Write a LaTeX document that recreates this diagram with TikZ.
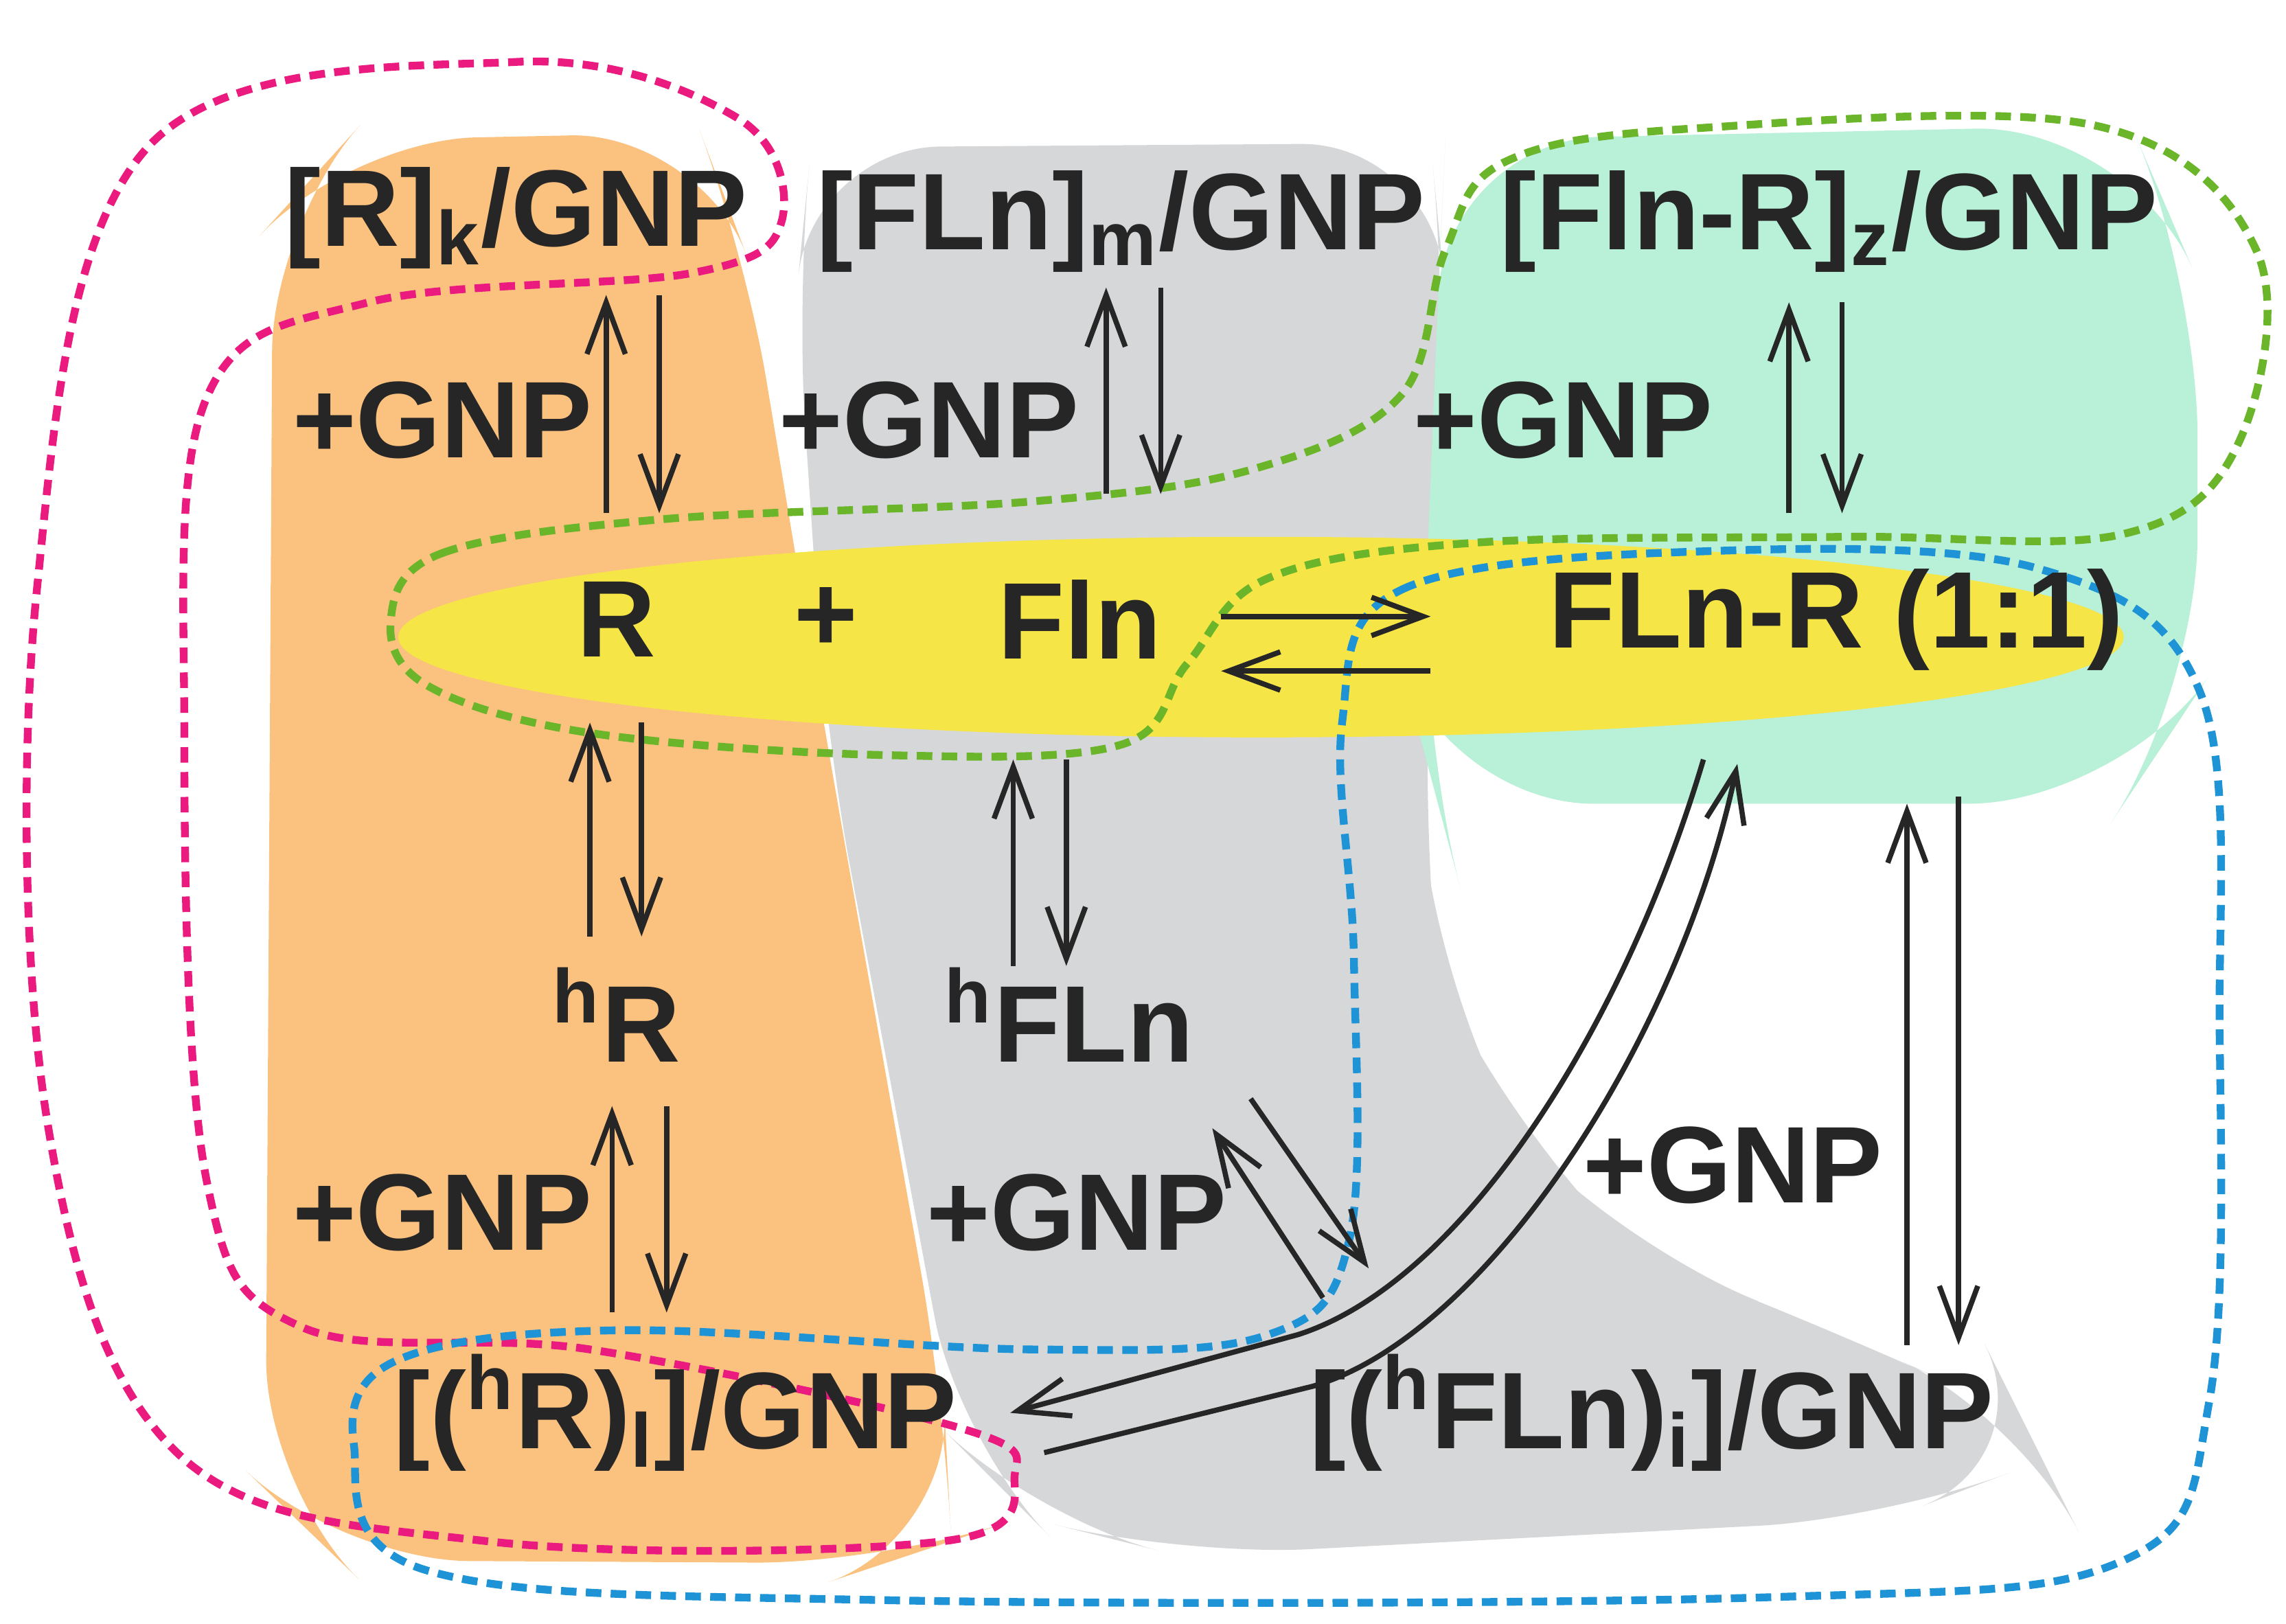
\documentclass[tikz,border=0pt]{standalone}
\usepackage{fontspec}
\setmainfont{Liberation Sans}
\usetikzlibrary{arrows.meta}
\definecolor{orng}{HTML}{FBC17F}
\definecolor{gry}{HTML}{D5D7D9}
\definecolor{mint}{HTML}{B8F0D8}
\definecolor{yel}{HTML}{F5E547}
\definecolor{pnk}{HTML}{EA1A7F}
\definecolor{grn}{HTML}{6BB52A}
\definecolor{blu}{HTML}{1E93D6}
\tikzset{
  lbl/.style={font=\fontsize{21}{24}\selectfont\bfseries, text=black!85},
  rx/.style={draw=black!85, line width=1pt, -{Straight Barb[length=3.5mm,width=2.6mm]}},
  loop/.style={line width=1.5pt, dash pattern=on 3pt off 1.8pt, line join=round},
}
\begin{document}
\begin{tikzpicture}[x=0.01cm,y=-0.01cm]
    \useasboundingbox (0,0) rectangle (1550,1101);

    % shaded regions
    \fill[orng, rounded corners=25pt] (235,95) -- (475,90) -- (505,170) -- (560,500) -- (640,950) -- (645,1045) -- (600,1060) -- (230,1058) -- (180,1010) -- (185,150) -- cycle;
    \fill[gry, rounded corners=25pt] (550,100) -- (970,97) -- (980,200) -- (965,560) -- (975,660) -- (1030,770) -- (1110,850) -- (1250,905) -- (1370,960) -- (1385,990) -- (1280,1030) -- (800,1055) -- (700,1030) -- (650,980) -- (560,500) -- (540,200) -- cycle;
    \fill[mint, rounded corners=30pt] (980,95) -- (1445,85) -- (1490,190) -- (1490,470) -- (1440,545) -- (975,545) -- (963,500) -- (975,200) -- cycle;
    \fill[yel] (855,432) ellipse [x radius=585, y radius=68];

    % dashed groupings
    \draw[loop, pnk] plot[smooth cycle, tension=0.6] coordinates {(530,150) (500,80) (350,42) (100,100) (25,400) (32,760) (120,985) (330,1045) (640,1045) (688,1000) (650,968) (400,915) (205,900) (140,800) (125,500) (140,270) (250,205) (470,185)};
    \draw[loop, grn] plot[smooth cycle, tension=0.6] coordinates {(265,420) (300,375) (450,352) (700,340) (850,318) (950,268) (980,170) (1020,110) (1150,87) (1420,85) (1530,170) (1518,300) (1440,362) (1250,364) (1000,368) (860,392) (805,450) (760,505) (600,512) (400,497) (290,465)};
    \draw[loop, blu] plot[smooth cycle, tension=0.6] coordinates {(910,490) (950,400) (1150,374) (1380,385) (1492,470) (1505,700) (1498,950) (1440,1058) (1200,1083) (600,1085) (290,1065) (240,980) (270,922) (420,902) (700,915) (860,905) (915,840) (918,650)};

    % species
    \node[lbl] (Rk) at (350,148) {[R]\textsubscript{k}/GNP};
    \node[lbl] (Fm) at (760,150) {[FLn]\textsubscript{m}/GNP};
    \node[lbl] (Cz) at (1240,150) {[Fln-R]\textsubscript{z}/GNP};
    \node[lbl] (R) at (418,420) {R};
    \node[lbl] (plus) at (560,420) {+};
    \node[lbl] (F) at (732,420) {Fln};
    \node[lbl] (C) at (1245,420) {FLn-R (1:1)};
    \node[lbl] (hR) at (418,688) {\textsuperscript{h}R};
    \node[lbl] (hF) at (725,688) {\textsuperscript{h}FLn};
    \node[lbl] (Rl) at (458,958) {[(\textsuperscript{h}R)\textsubscript{l}]/GNP};
    \node[lbl] (Fi) at (1120,958) {[(\textsuperscript{h}FLn)\textsubscript{i}]/GNP};
    \node[lbl] (g1) at (300,285) {+GNP};
    \node[lbl] (g2) at (630,285) {+GNP};
    \node[lbl] (g3) at (1060,285) {+GNP};
    \node[lbl] (g4) at (300,822) {+GNP};
    \node[lbl] (g5) at (730,822) {+GNP};
    \node[lbl] (g6) at (1175,790) {+GNP};

    % arrow ends
    \foreach \n/\x/\ya/\yb in {a/411/348/200, b/447/200/348, c/750/335/195, d/787/195/335,
        e/1213/348/205, f/1249/205/348, g/400/635/490, h/435/490/635, i/687/655/515,
        j/723/515/655, k/415/890/750, l/452/750/890, m/1293/912/545, n/1328/540/912}
      {\coordinate (\n0) at (\x,\ya); \coordinate (\n1) at (\x,\yb);}
    \coordinate (o0) at (828,418); \coordinate (o1) at (970,418);
    \coordinate (p0) at (970,455); \coordinate (p1) at (828,455);
    \coordinate (q0) at (897,880); \coordinate (q1) at (822,765);
    \coordinate (r0) at (848,745); \coordinate (r1) at (928,860);
    \coordinate (s0) at (1155,515); \coordinate (s1) at (685,958);
    \coordinate (t0) at (708,985); \coordinate (t1) at (1178,518);

    \foreach \n in {a,b,c,d,e,f,g,h,i,j,k,l,m,n,o,p,q,r}
      \draw[rx] (\n0) -- (\n1);
    \draw[rx] (s0) .. controls (1100,700) and (990,870) .. (880,905) -- (s1);
    \draw[rx] (t0) -- (890,940) .. controls (1010,905) and (1140,700) .. (t1);
\end{tikzpicture}
\end{document}
